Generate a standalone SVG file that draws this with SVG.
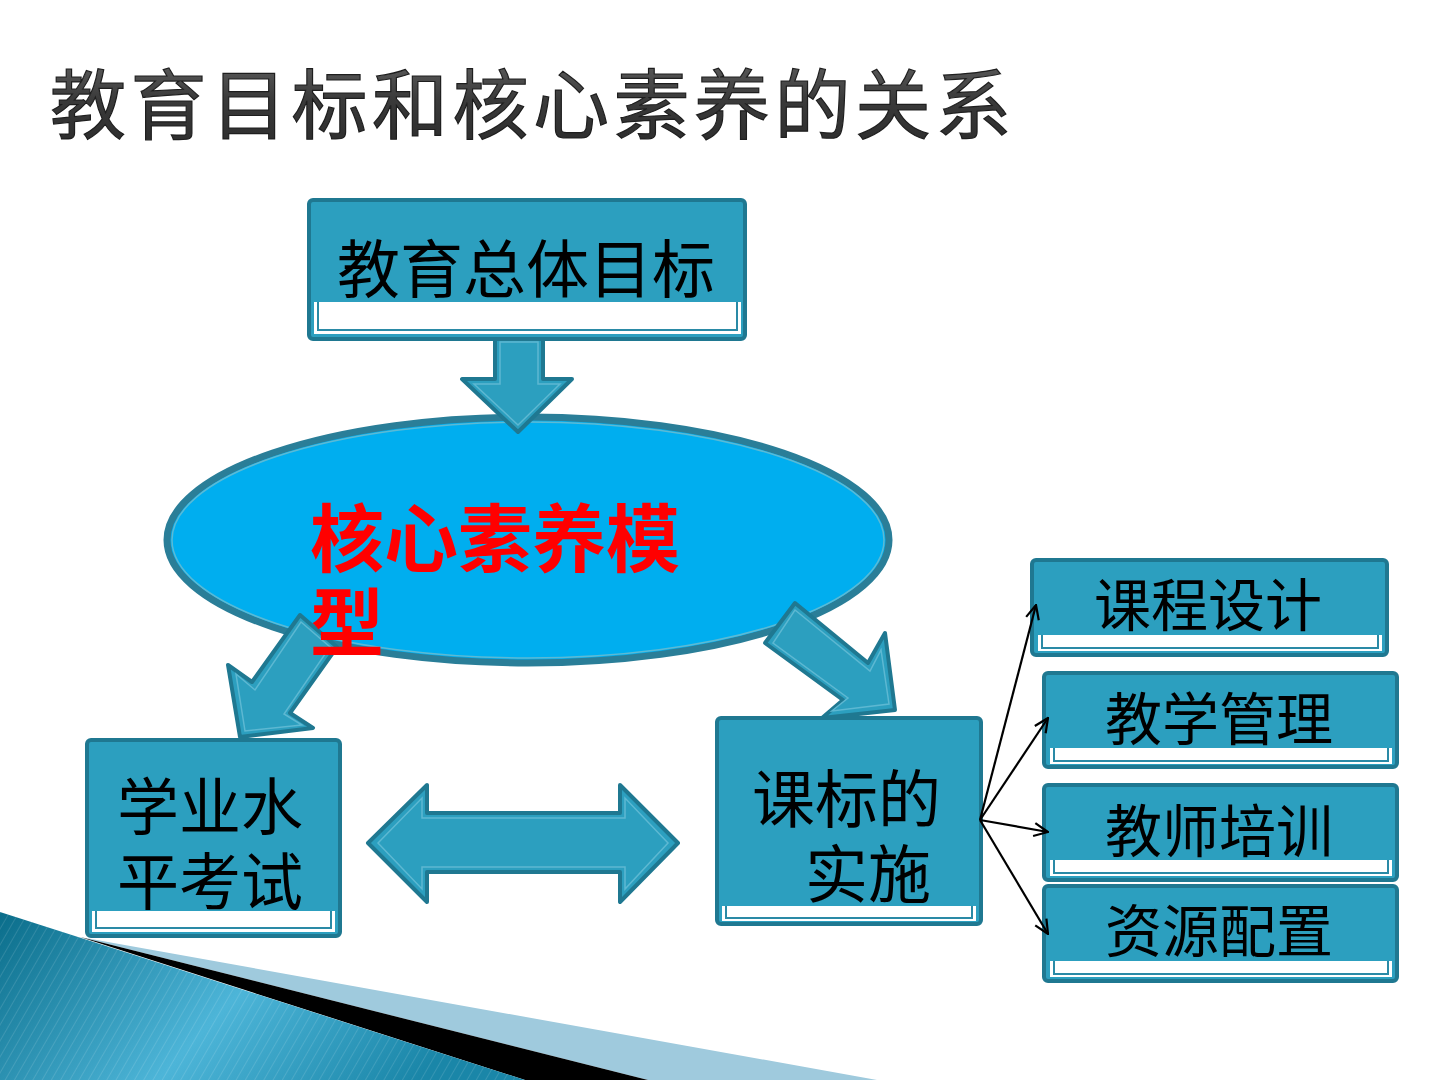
<svg xmlns="http://www.w3.org/2000/svg" width="1440" height="1080" viewBox="0 0 1440 1080">
<defs>
<style>
.box{fill:#2C9FBF;stroke:#1F7891;stroke-width:4;}
.strip{fill:#ffffff;stroke:none;}
.inner{fill:none;stroke:#2A8AA6;stroke-width:2;}
.blk{fill:#2C9FBF;stroke:#1F7891;stroke-width:4;stroke-linejoin:round;}
.blkin{fill:none;stroke:#5DB8D2;stroke-width:1.5;}
.t{font-family:"Noto Sans CJK SC","Noto Sans",sans-serif;fill:#000;}
.red{font-family:"Noto Sans CJK SC","Noto Sans",sans-serif;fill:#FF0000;font-weight:bold;font-size:74px;}
.line{stroke:#000;stroke-width:2.2;fill:none;}
</style>
<marker id="open" viewBox="0 0 16 16" refX="15" refY="8" markerWidth="16" markerHeight="16" markerUnits="userSpaceOnUse" orient="auto">
<path d="M1,1.5 L15,8 L1,14.5" fill="none" stroke="#000" stroke-width="2.2"/>
</marker>
<linearGradient id="teal" x1="0" y1="0" x2="1" y2="0.3">
<stop offset="0" stop-color="#0A6D8A"/>
<stop offset="0.55" stop-color="#4DB5D8"/>
<stop offset="1" stop-color="#1A86A8"/>
</linearGradient>
<pattern id="stripes" width="8" height="8" patternUnits="userSpaceOnUse" patternTransform="rotate(30)">
<rect width="8" height="8" fill="none"/>
<line x1="0" y1="0" x2="0" y2="8" stroke="#ffffff" stroke-opacity="0.12" stroke-width="2"/>
</pattern>
<linearGradient id="titleg" x1="0" y1="0" x2="0" y2="1">
<stop offset="0" stop-color="#6a6a6a"/>
<stop offset="0.5" stop-color="#3a3a3a"/>
<stop offset="1" stop-color="#2a2a2a"/>
</linearGradient>
</defs>
<rect width="1440" height="1080" fill="#ffffff"/>

<g id="decoration">
<polygon points="80,937 877,1080 648,1080" fill="#9FCADD"/>
<polygon points="80,937 648,1080 525,1080" fill="#000000"/>
<polygon points="0,912 525,1080 0,1080" fill="url(#teal)"/>
<polygon points="0,912 525,1080 0,1080" fill="url(#stripes)"/>
</g>

<g id="title">
<text x="50" y="133" font-family="'Noto Sans CJK SC','Noto Sans',sans-serif" font-size="76" letter-spacing="4.5" fill="url(#titleg)" stroke="#1e1e1e" stroke-width="1.2">教育目标和核心素养的关系</text>
</g>

<g id="node-core">
<ellipse cx="528" cy="540" rx="361" ry="123" fill="#00AEEF" stroke="#2A7E98" stroke-width="7"/>
<ellipse cx="528" cy="540" rx="356" ry="118" fill="none" stroke="#5BBAD5" stroke-width="1.5"/>
</g>

<g id="connectors">
<g id="arrow-down">
<polygon class="blk" points="495,337 543,337 543,379 572,379 518,432 462,379 495,379"/>
<polygon class="blkin" points="500,342 538,342 538,384 560,384 518,425 474,384 500,384"/>
</g>
<g id="arrow-left">
<polygon class="blk" points="300,615 337,647 290,713 313,728 240,737 228,665 252,682"/>
<polygon class="blkin" points="301,622 330,647 284,714 302,725 245,731 236,674 255,690"/>
</g>
<g id="arrow-right">
<polygon class="blk" points="795,603 868,663 885,633 895,710 822,718 843,700 765,643"/>
<polygon class="blkin" points="795,610 870,671 881,650 889,704 832,711 848,698 773,643"/>
</g>
<g id="arrow-double">
<polygon class="blk" points="368,843 427,785 427,813 620,813 620,785 678,843 620,902 620,872 427,872 427,902"/>
<polygon class="blkin" points="378,843 422,798 422,818 625,818 625,798 668,843 625,889 625,867 422,867 422,889"/>
</g>
</g>

<g id="node-core-label">
<text class="red" x="310" y="566">核心素养模</text>
<text class="red" x="310" y="650">型</text>
</g>

<g id="node-top">
<rect class="box" x="309" y="200" width="436" height="139" rx="4"/>
<rect class="strip" x="314" y="302" width="427" height="32"/>
<polyline class="inner" points="318,302 318,330 737,330 737,302"/>
<text class="t" x="526" y="292" font-size="63" text-anchor="middle">教育总体目标</text>
</g>

<g id="node-exam">
<rect class="box" x="87" y="740" width="253" height="196" rx="4"/>
<rect class="strip" x="92" y="911" width="243" height="21"/>
<polyline class="inner" points="96,911 96,928 331,928 331,911"/>
<text class="t" x="117" y="830" font-size="62">学业水</text>
<text class="t" x="117" y="905" font-size="62">平考试</text>
</g>

<g id="node-standard">
<rect class="box" x="717" y="718" width="264" height="206" rx="4"/>
<rect class="strip" x="722" y="906" width="254" height="15"/>
<polyline class="inner" points="726,906 726,918 972,918 972,906"/>
<text class="t" x="752" y="822" font-size="63">课标的</text>
<text class="t" x="805" y="897" font-size="63">实施</text>
</g>

<g id="node-course">
<rect class="box" x="1032" y="560" width="355" height="95" rx="4"/>
<rect class="strip" x="1038" y="635" width="344" height="16"/>
<polyline class="inner" points="1042,635 1042,648 1378,648 1378,635"/>
<text class="t" x="1208" y="626" font-size="57" text-anchor="middle">课程设计</text>
</g>

<g id="node-manage">
<rect class="box" x="1044" y="673" width="353" height="94" rx="4"/>
<rect class="strip" x="1050" y="748" width="342" height="16"/>
<polyline class="inner" points="1054,748 1054,761 1388,761 1388,748"/>
<text class="t" x="1219" y="740" font-size="57" text-anchor="middle">教学管理</text>
</g>

<g id="node-training">
<rect class="box" x="1044" y="785" width="353" height="95" rx="4"/>
<rect class="strip" x="1050" y="860" width="342" height="16"/>
<polyline class="inner" points="1054,860 1054,873 1388,873 1388,860"/>
<text class="t" x="1219" y="852" font-size="57" text-anchor="middle">教师培训</text>
</g>

<g id="node-resource">
<rect class="box" x="1044" y="886" width="353" height="95" rx="4"/>
<rect class="strip" x="1050" y="961" width="342" height="16"/>
<polyline class="inner" points="1054,961 1054,974 1388,974 1388,961"/>
<text class="t" x="1219" y="952" font-size="57" text-anchor="middle">资源配置</text>
</g>

<g id="connector-lines">
<line class="line" x1="980" y1="820" x2="1036" y2="605" marker-end="url(#open)"/>
<line class="line" x1="980" y1="820" x2="1048" y2="718" marker-end="url(#open)"/>
<line class="line" x1="980" y1="820" x2="1048" y2="832" marker-end="url(#open)"/>
<line class="line" x1="980" y1="820" x2="1048" y2="934" marker-end="url(#open)"/>
</g>
</svg>
